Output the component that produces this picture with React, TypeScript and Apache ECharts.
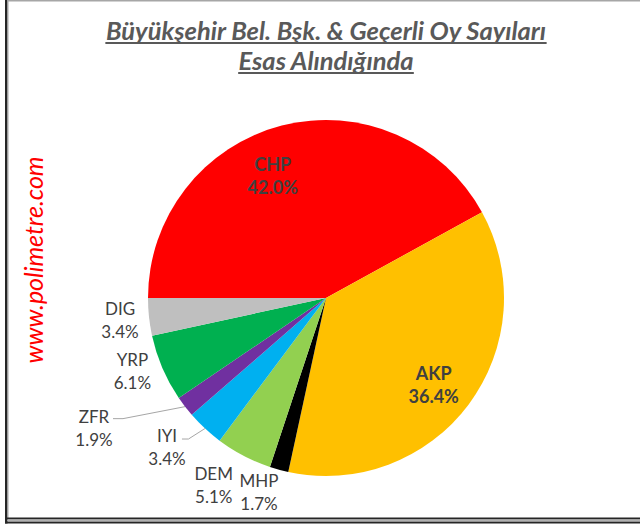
import React, { useEffect, useRef } from 'react';
import * as echarts from 'echarts';

// ---- data ----
const categories = ['CHP', 'AKP', 'MHP', 'DEM', 'IYI', 'ZFR', 'YRP', 'DIG'];
const shares = [42.0, 36.4, 1.7, 5.1, 3.4, 1.9, 6.1, 3.4];
const sliceColors = ['#FF0000', '#FFC000', '#000000', '#92D050', '#00B0F0', '#7030A0', '#00B050', '#BFBFBF'];
const insideLabels = ['CHP', 'AKP'];
const leaderLabels = ['ZFR', 'IYI'];
const titleLines = ['Büyükşehir Bel. Bşk. & Geçerli Oy Sayıları', 'Esas Alındığında'];
const watermark = 'www.polimetre.com';

// ---- style config (label placement relative to the slice's arc midpoint) ----
const LABEL_SHIFT: Record<string, [number, number]> = {
  CHP: [-9, 50],
  AKP: [-35, -20],
  MHP: [-20, 22],
  DEM: [-30, 29],
  IYI: [-38, 18],
  ZFR: [-91, 21.5],
  YRP: [-30, 3],
  DIG: [-29, 3],
};
const LEADER: Record<string, { ex: number; ey: number; stub: number }> = {
  ZFR: { ex: 19, ey: -9.5, stub: 10 },
  IYI: { ex: 15, ey: -7.5, stub: 6.5 },
};

const FONT = 'Lato, "Open Sans", "DejaVu Sans", sans-serif';
const TITLE_SIZE = 25.5;

function measure(text: string, font: string): number {
  const ctx = document.createElement('canvas').getContext('2d');
  if (!ctx) return text.length * 10;
  ctx.font = font;
  return ctx.measureText(text).width;
}

export default function App() {
  const ref = useRef<HTMLDivElement>(null);

  useEffect(() => {
    if (!ref.current) return;
    const chart = echarts.init(ref.current, undefined, { renderer: 'svg' });
    const titleFont = `italic bold ${TITLE_SIZE}px Lato`;
    const w1 = measure(titleLines[0], titleFont);
    const w2 = measure(titleLines[1], titleFont);
    const cx = 326;

    const graphic: any[] = [
      // frame
      { type: 'rect', silent: true, shape: { x: 5, y: 0, width: 2.5, height: 523.5 }, style: { fill: '#262626' } },
      { type: 'rect', silent: true, shape: { x: 7.5, y: 0, width: 1, height: 519 }, style: { fill: '#A6A6A6' } },
      { type: 'rect', silent: true, shape: { x: 7.5, y: 0, width: 633, height: 1.5 }, style: { fill: '#A6A6A6' } },
      { type: 'rect', silent: true, shape: { x: 5, y: 517.5, width: 635, height: 2 }, style: { fill: '#262626' } },
      { type: 'rect', silent: true, shape: { x: 7.5, y: 519.5, width: 633, height: 1.5 }, style: { fill: '#B0B0B0' } },
      { type: 'rect', silent: true, shape: { x: 5, y: 521.5, width: 635, height: 2 }, style: { fill: '#262626' } },
      // title
      {
        type: 'text', silent: true, x: cx, y: 30,
        style: { text: titleLines[0], fontSize: TITLE_SIZE, fontWeight: 'bold', fontStyle: 'italic', fontFamily: FONT, fill: '#595959', align: 'center', verticalAlign: 'middle' },
      },
      { type: 'rect', silent: true, shape: { x: cx - w1 / 2, y: 42, width: w1, height: 2 }, style: { fill: '#595959' } },
      {
        type: 'text', silent: true, x: cx, y: 60,
        style: { text: titleLines[1], fontSize: TITLE_SIZE, fontWeight: 'bold', fontStyle: 'italic', fontFamily: FONT, fill: '#595959', align: 'center', verticalAlign: 'middle' },
      },
      { type: 'rect', silent: true, shape: { x: cx - w2 / 2, y: 72, width: w2, height: 2 }, style: { fill: '#595959' } },
      // watermark
      {
        type: 'text', silent: true, x: 33, y: 260, rotation: Math.PI / 2,
        style: { text: watermark, fontSize: 25, fontStyle: 'italic', fontFamily: FONT, fill: '#FF0000', align: 'center', verticalAlign: 'middle' },
      },
    ];

    const option: any = {
      animation: false,
      backgroundColor: '#FFFFFF',
      graphic,
      series: [
        {
          type: 'pie',
          silent: true,
          center: [326, 298],
          radius: 178,
          startAngle: 180,
          clockwise: true,
          avoidLabelOverlap: false,
          percentPrecision: 1,
          data: categories.map((name, i) => ({
            name,
            value: shares[i],
            itemStyle: { color: sliceColors[i] },
            label: insideLabels.includes(name)
              ? { fontWeight: 700, fontSize: 18, color: '#404040' }
              : { fontWeight: 400 },
            labelLine: { lineStyle: { opacity: leaderLabels.includes(name) ? 1 : 0 } },
          })),
          label: {
            show: true,
            position: 'outside',
            formatter: (p: any) => `${p.name}\n${Number(p.percent).toFixed(1)}%`,
            color: '#404040',
            fontFamily: FONT,
            fontSize: 17,
            lineHeight: 23,
            align: 'center',
          },
          labelLine: { show: true, length: 6, length2: 6, lineStyle: { color: '#A6A6A6', width: 1 } },
          labelLayout: (params: any) => {
            const name = categories[params.dataIndex];
            const pts = params.labelLinePoints;
            if (!pts || !pts[0]) return {};
            const ax = pts[0][0];
            const ay = pts[0][1];
            const [sx, sy] = LABEL_SHIFT[name];
            const x = ax + sx;
            const y = ay + sy;
            const res: any = { x, y, align: 'center', verticalAlign: 'middle' };
            const ld = LEADER[name];
            if (ld) {
              const end = [x + ld.ex, y + ld.ey];
              res.labelLinePoints = [[ax, ay], [end[0] + ld.stub, end[1]], end];
            }
            return res;
          },
        },
      ],
    };
    chart.setOption(option);
    return () => chart.dispose();
  }, []);

  return <div ref={ref} style={{ position: 'fixed', left: 0, top: 0, width: 640, height: 527 }} />;
}
